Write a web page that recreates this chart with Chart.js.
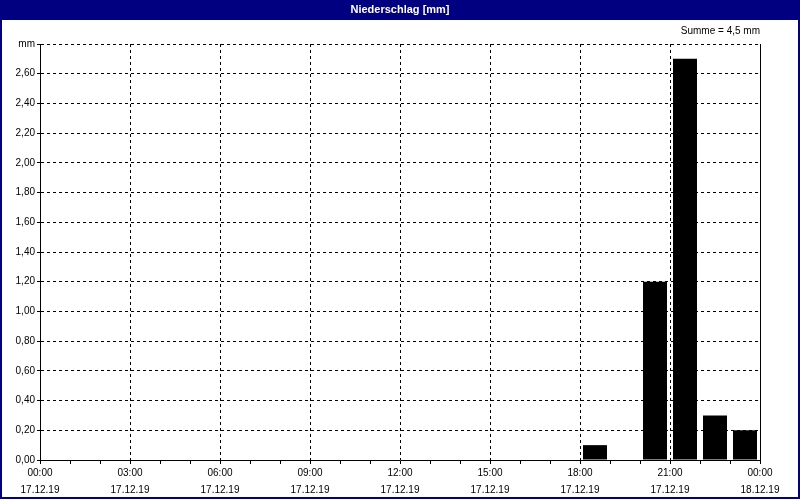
<!DOCTYPE html>
<html>
<head>
<meta charset="utf-8">
<script src="https://cdn.jsdelivr.net/npm/chart.js@4/dist/chart.umd.min.js"></script>
<style>
  html, body { margin: 0; padding: 0; background: #fff; }
  #wrap { width: 800px; height: 500px; }
</style>
</head>
<body>
<div id="wrap"><canvas id="rainChart"></canvas></div>
<script>
// ---------- DATA ----------
const hours = [0, 1, 2, 3, 4, 5, 6, 7, 8, 9, 10, 11, 12, 13, 14, 15, 16, 17, 18, 19, 20, 21, 22, 23];
const rain = [0, 0, 0, 0, 0, 0, 0, 0, 0, 0, 0, 0, 0, 0, 0, 0, 0, 0, 0.1, 0, 1.2, 2.7, 0.3, 0.2];
const xTickHours = [0, 3, 6, 9, 12, 15, 18, 21, 24];
const timeLabels = ["00:00", "03:00", "06:00", "09:00", "12:00", "15:00", "18:00", "21:00", "00:00"];
const dateLabels = ["17.12.19", "17.12.19", "17.12.19", "17.12.19", "17.12.19", "17.12.19", "17.12.19", "17.12.19", "18.12.19"];
const yTickValues = [0, 0.2, 0.4, 0.6, 0.8, 1.0, 1.2, 1.4, 1.6, 1.8, 2.0, 2.2, 2.4, 2.6, 2.8];
const yTickLabels = ["0,00", "0,20", "0,40", "0,60", "0,80", "1,00", "1,20", "1,40", "1,60", "1,80", "2,00", "2,20", "2,40", "2,60", "mm"];

const NAVY = "#000080";
Chart.defaults.font.family = "'Liberation Sans', Arial, sans-serif";
Chart.defaults.font.size = 10;
Chart.defaults.color = "#000";

// ---------- FRAME + TITLE BAR ----------
const framePlugin = {
  id: "frame",
  beforeDraw(chart) {
    const c = chart.ctx;
    c.save();
    c.fillStyle = "#fff";
    c.fillRect(0, 0, chart.width, chart.height);
    c.fillStyle = NAVY;
    c.fillRect(0, 0, chart.width, 20);
    c.restore();
  },
  afterDraw(chart) {
    const c = chart.ctx;
    c.save();
    c.strokeStyle = NAVY;
    c.lineWidth = 2;
    c.strokeRect(1, 1, chart.width - 2, chart.height - 3);
    c.restore();
  }
};

// ---------- CHART ----------
new Chart(document.getElementById("rainChart"), {
  type: "bar",
  data: {
    datasets: [{
      data: hours.map((h, i) => ({ x: h + 0.5, y: rain[i] })),
      backgroundColor: "#000",
      borderWidth: 0,
      barPercentage: 0.8,
      categoryPercentage: 1
    }]
  },
  options: {
    responsive: true,
    maintainAspectRatio: false,
    animation: false,
    layout: { padding: { left: 2, right: 2, top: 0, bottom: 2 } },
    plugins: {
      legend: { display: false },
      tooltip: { enabled: false },
      title: {
        display: true,
        text: "Niederschlag [mm]",
        color: "#fff",
        fullSize: false,
        font: { size: 11, weight: "bold", lineHeight: 1 },
        padding: { top: 4, bottom: 5 }
      },
      subtitle: {
        display: true,
        text: "Summe = 4,5 mm",
        align: "end",
        color: "#000",
        fullSize: false,
        font: { size: 10, lineHeight: 1 },
        padding: { top: 6, bottom: 8 }
      }
    },
    scales: {
      x: {
        type: "linear",
        min: 0,
        max: 24,
        offset: false,
        afterBuildTicks: (s) => { s.ticks = hours.concat([24]).map(v => ({ value: v })); },
        afterFit: (s) => { s.height = 38; },
        ticks: {
          autoSkip: false,
          maxRotation: 0,
          padding: 1,
          font: { size: 10, lineHeight: 1.7 },
          callback: (v) => {
            const k = xTickHours.indexOf(v);
            return k < 0 ? "" : [timeLabels[k], dateLabels[k]];
          }
        },
        grid: {
          offset: false,
          color: (ctx) => (ctx.tick && ctx.tick.value % 3 === 0 ? "#000" : "rgba(0,0,0,0)"),
          tickColor: "#000",
          tickLength: 4,
          tickBorderDash: []
        },
        border: { color: "#000", dash: [3, 3] }
      },
      y: {
        min: 0,
        max: 2.8,
        afterBuildTicks: (s) => { s.ticks = yTickValues.map(v => ({ value: v })); },
        afterFit: (s) => { s.width = 38; },
        ticks: {
          padding: 2,
          callback: (v, i) => yTickLabels[i]
        },
        grid: {
          color: "#000",
          tickColor: "#000",
          tickLength: 3,
          tickBorderDash: []
        },
        border: { color: "#000", dash: [3, 3] }
      },
      yRight: {
        position: "right",
        min: 0,
        max: 2.8,
        afterFit: (s) => { s.width = 38; },
        ticks: { display: false },
        grid: { drawOnChartArea: false, drawTicks: false },
        border: { color: "#000" }
      }
    }
  },
  plugins: [framePlugin]
});
</script>
</body>
</html>
